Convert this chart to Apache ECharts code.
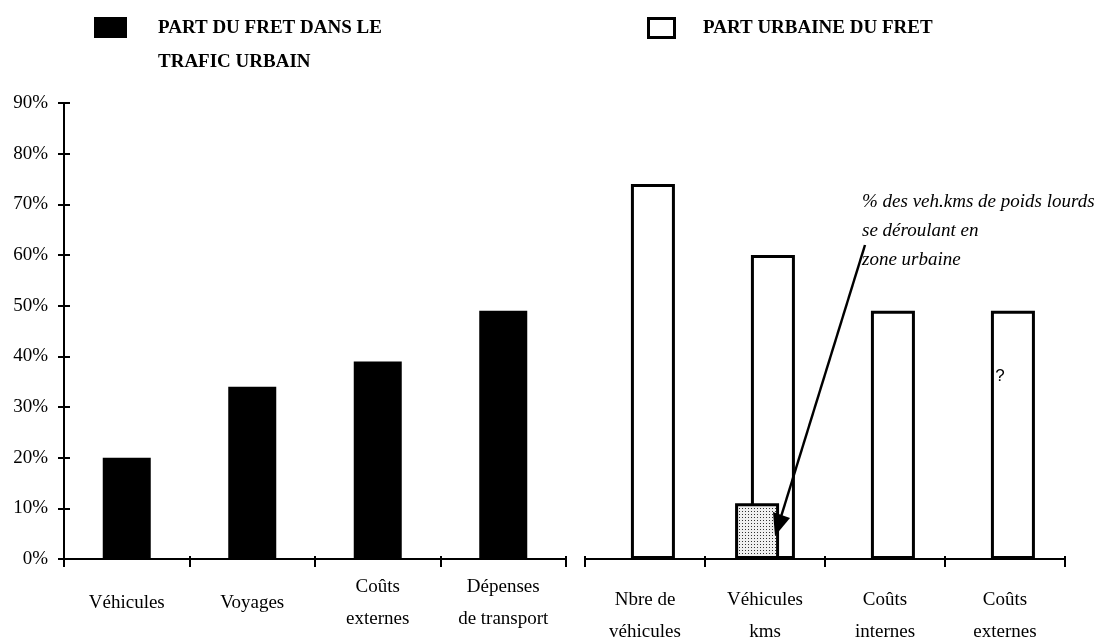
<!DOCTYPE html>
<html>
<head>
<meta charset="utf-8">
<script src="https://cdn.jsdelivr.net/npm/echarts@6/dist/echarts.min.js"></script>
<style>html,body{margin:0;padding:0;background:#fff}#c{width:1105px;height:639px}</style>
</head>
<body>
<div id="c"></div>
<script>
// ---- data ----
const leftCategories = ['Véhicules', 'Voyages', 'Coûts\nexternes', 'Dépenses\nde transport'];
const leftValues = [20, 34, 39, 49];
const rightCategories = ['Nbre de\nvéhicules', 'Véhicules\nkms', 'Coûts\ninternes', 'Coûts\nexternes'];
const rightValues = [74, 60, 49, 49];
const heavyValues = ['-', 11, '-', '-'];
const yMin = 0, yMax = 90, yStep = 10;
const legendLeft = ['PART DU FRET DANS LE', 'TRAFIC URBAIN'];
const legendRight = 'PART URBAINE DU FRET';
const noteLines = ['% des veh.kms de poids lourds', 'se déroulant en', 'zone urbaine'];
const unknownMark = '?';

// ---- styles ----
const SERIF = "'Liberation Serif', 'Times New Roman', serif";
const pc = document.createElement('canvas');
pc.width = 3; pc.height = 3;
const pctx = pc.getContext('2d');
pctx.fillStyle = '#f0f0f0'; pctx.fillRect(0, 0, 3, 3);
pctx.fillStyle = '#333'; pctx.fillRect(1, 1, 1, 1);

const catLabel = (margin) => ({
  interval: 0, margin: margin, verticalAlign: 'middle', color: '#000',
  fontFamily: SERIF, fontSize: 19, lineHeight: 32
});
const line = { show: true, lineStyle: { color: '#000', width: 2 } };
const outTick = { show: true, interval: 0, inside: false, length: 8, lineStyle: { color: '#000', width: 2 } };
const inTick = { show: true, interval: 0, inside: true, length: 3, lineStyle: { color: '#000', width: 2 } };

const chart = echarts.init(document.getElementById('c'), null, { renderer: 'canvas' });
chart.setOption({
  animation: false,
  backgroundColor: '#fff',
  grid: [
    { left: 64, right: 539, top: 103, bottom: 80, outerBoundsMode: 'none', containLabel: false },
    { left: 585, right: 40, top: 103, bottom: 80, outerBoundsMode: 'none', containLabel: false }
  ],
  xAxis: [
    { gridIndex: 0, type: 'category', position: 'bottom', data: leftCategories, axisLine: line,
      axisTick: outTick, axisLabel: catLabel(44), splitLine: { show: false } },
    { gridIndex: 1, type: 'category', position: 'bottom', data: rightCategories, axisLine: line,
      axisTick: outTick, axisLabel: catLabel(57), splitLine: { show: false } },
    { gridIndex: 0, type: 'category', position: 'bottom', data: leftCategories, axisLine: { show: false },
      axisTick: inTick, axisLabel: { show: false }, splitLine: { show: false } },
    { gridIndex: 1, type: 'category', position: 'bottom', data: rightCategories, axisLine: { show: false },
      axisTick: inTick, axisLabel: { show: false }, splitLine: { show: false } }
  ],
  yAxis: [
    { gridIndex: 0, type: 'value', position: 'left', min: yMin, max: yMax, interval: yStep,
      axisLine: { show: true, lineStyle: { color: '#000', width: 2 } },
      axisTick: { show: true, length: 6, lineStyle: { color: '#000', width: 2 } },
      splitLine: { show: false },
      axisLabel: { formatter: '{value}%', margin: 16, color: '#000', fontFamily: SERIF, fontSize: 19 } },
    { gridIndex: 0, type: 'value', position: 'left', offset: 0, min: yMin, max: yMax, interval: yStep,
      axisLine: { show: false }, splitLine: { show: false }, axisLabel: { show: false },
      axisTick: { show: true, inside: true, length: 6, lineStyle: { color: '#000', width: 2 } } },
    { gridIndex: 1, type: 'value', min: yMin, max: yMax, interval: yStep, show: false,
      splitLine: { show: false } }
  ],
  series: [
    { type: 'bar', xAxisIndex: 0, yAxisIndex: 0, data: leftValues, barWidth: 48,
      itemStyle: { color: '#000' } },
    { type: 'bar', xAxisIndex: 1, yAxisIndex: 2, data: rightValues, barWidth: 44, barGap: '-136%',
      itemStyle: { color: '#fff', borderColor: '#000', borderWidth: 3 }, z: 2 },
    { type: 'bar', xAxisIndex: 1, yAxisIndex: 2, data: heavyValues, barWidth: 44, barGap: '-136%',
      itemStyle: { color: { image: pc, repeat: 'repeat' }, borderColor: '#000', borderWidth: 3 }, z: 3 }
  ],
  graphic: [
    { type: 'rect', shape: { x: 94, y: 17, width: 33, height: 21 }, style: { fill: '#000' } },
    { type: 'text', x: 158, y: 28, style: { text: legendLeft[0], font: 'bold 19px ' + SERIF, fill: '#000', verticalAlign: 'middle' } },
    { type: 'text', x: 158, y: 62, style: { text: legendLeft[1], font: 'bold 19px ' + SERIF, fill: '#000', verticalAlign: 'middle' } },
    { type: 'rect', shape: { x: 648.5, y: 18.5, width: 26, height: 19 }, style: { fill: '#fff', stroke: '#000', lineWidth: 3 } },
    { type: 'text', x: 703, y: 28, style: { text: legendRight, font: 'bold 19px ' + SERIF, fill: '#000', verticalAlign: 'middle' } },
    { type: 'text', x: 862, y: 202, style: { text: noteLines[0], font: 'italic 19px ' + SERIF, fill: '#000', verticalAlign: 'middle' } },
    { type: 'text', x: 862, y: 231, style: { text: noteLines[1], font: 'italic 19px ' + SERIF, fill: '#000', verticalAlign: 'middle' } },
    { type: 'text', x: 862, y: 260, style: { text: noteLines[2], font: 'italic 19px ' + SERIF, fill: '#000', verticalAlign: 'middle' } },
    { type: 'line', shape: { x1: 865, y1: 245, x2: 780, y2: 520 }, style: { stroke: '#000', lineWidth: 2.5 }, z: 100 },
    { type: 'polygon', shape: { points: [[775, 536], [773, 512], [790, 518]] }, style: { fill: '#000' }, z: 100 },
    { type: 'text', x: 1000, y: 376, z: 100, style: { text: unknownMark, font: "17px 'Liberation Sans', Arial, sans-serif", fill: '#000', align: 'center', verticalAlign: 'middle' } }
  ]
});
</script>
</body>
</html>
